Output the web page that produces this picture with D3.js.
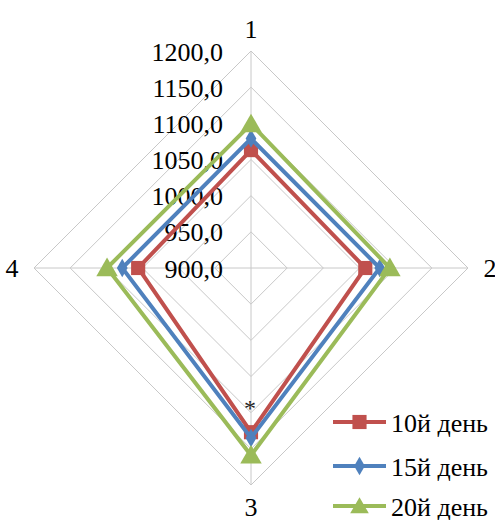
<!DOCTYPE html>
<html><head><meta charset="utf-8">
<script src="https://cdn.jsdelivr.net/npm/d3@7"></script>
<style>html,body{margin:0;padding:0;background:#fff}</style>
</head><body>
<svg id="c" width="495" height="520"></svg>
<script>
const categories = ["1", "2", "3", "4"];
const seriesNames = ["10й день", "15й день", "20й день"];
const values10 = [1063, 1058, 1127, 1056];
const values15 = [1079, 1078, 1135, 1078];
const values20 = [1099, 1092, 1159, 1099];
const tickValues = [900, 950, 1000, 1050, 1100, 1150, 1200];
const colors = ["#C0504D", "#4F81BD", "#9BBB59"];
const FONT = '"Liberation Serif", monospace';

const series = [values10, values15, values20];
const svg = d3.select("#c");
const cx = 251, cy = 268, R = 217;
const r = d3.scaleLinear().domain([900, 1200]).range([0, R]);
const angle = i => i * Math.PI * 2 / categories.length;
const pt = (i, v) => [cx + r(v) * Math.sin(angle(i)), cy - r(v) * Math.cos(angle(i))];

const g = svg.append("g");
tickValues.slice(1).forEach(t => {
  const pts = categories.map((c, i) => pt(i, t));
  g.append("polygon").attr("points", pts.map(p => p.join(",")).join(" "))
    .attr("fill", "none").attr("stroke", "#C8C8C8").attr("stroke-width", 1);
});
categories.forEach((c, i) => {
  const p = pt(i, 1200);
  g.append("line").attr("x1", cx).attr("y1", cy).attr("x2", p[0]).attr("y2", p[1])
    .attr("stroke", "#C8C8C8").attr("stroke-width", 1);
});
tickValues.forEach(t => {
  g.append("text").attr("x", cx - 28).attr("y", cy - r(t) + 1)
    .attr("text-anchor", "end").attr("dominant-baseline", "central")
    .style("font-family", FONT).style("font-size", "26px").attr("fill", "#000")
    .text(d3.format(".1f")(t).replace(".", ","));
});
const labOff = 22;
categories.forEach((c, i) => {
  const x = cx + (R + labOff) * Math.sin(angle(i));
  const y = cy - (R + labOff) * Math.cos(angle(i));
  g.append("text").attr("x", x).attr("y", y)
    .attr("text-anchor", "middle").attr("dominant-baseline", "central")
    .style("font-family", FONT).style("font-size", "26px").attr("fill", "#000")
    .text(c);
});
g.append("text").attr("x", cx - 1).attr("y", 416).attr("text-anchor", "middle")
  .style("font-family", FONT).style("font-size", "24px").attr("fill", "#222").text("*");

const sym = [d3.symbolSquare, d3.symbolDiamond, d3.symbolTriangle];
const symSize = [200, 100, 200];
const line = d3.line().curve(d3.curveLinearClosed);
series.forEach((vals, s) => {
  const pts = vals.map((v, i) => pt(i, v));
  g.append("path").attr("d", line(pts)).attr("fill", "none")
    .attr("stroke", colors[s]).attr("stroke-width", 4).attr("stroke-linejoin", "miter");
  pts.forEach(p => {
    g.append("path").attr("d", d3.symbol().type(sym[s]).size(symSize[s])())
      .attr("transform", `translate(${p[0]},${p[1] + (s === 2 ? 2 : 0)})`).attr("fill", colors[s]);
  });
});

const lx1 = 333, lx2 = 386, ly = [422, 466, 506];
seriesNames.forEach((n, s) => {
  const lg = svg.append("g");
  lg.append("line").attr("x1", lx1).attr("x2", lx2).attr("y1", ly[s]).attr("y2", ly[s])
    .attr("stroke", colors[s]).attr("stroke-width", 4);
  lg.append("path").attr("d", d3.symbol().type(sym[s]).size(s === 2 ? 150 : symSize[s])())
    .attr("transform", `translate(${(lx1 + lx2) / 2},${ly[s] + (s === 2 ? 2 : 0)})`).attr("fill", colors[s]);
  lg.append("text").attr("x", 391).attr("y", ly[s] + 1).attr("dominant-baseline", "central")
    .style("font-family", FONT).style("font-size", "26px").attr("fill", "#000").text(n);
});
</script>
</body></html>
